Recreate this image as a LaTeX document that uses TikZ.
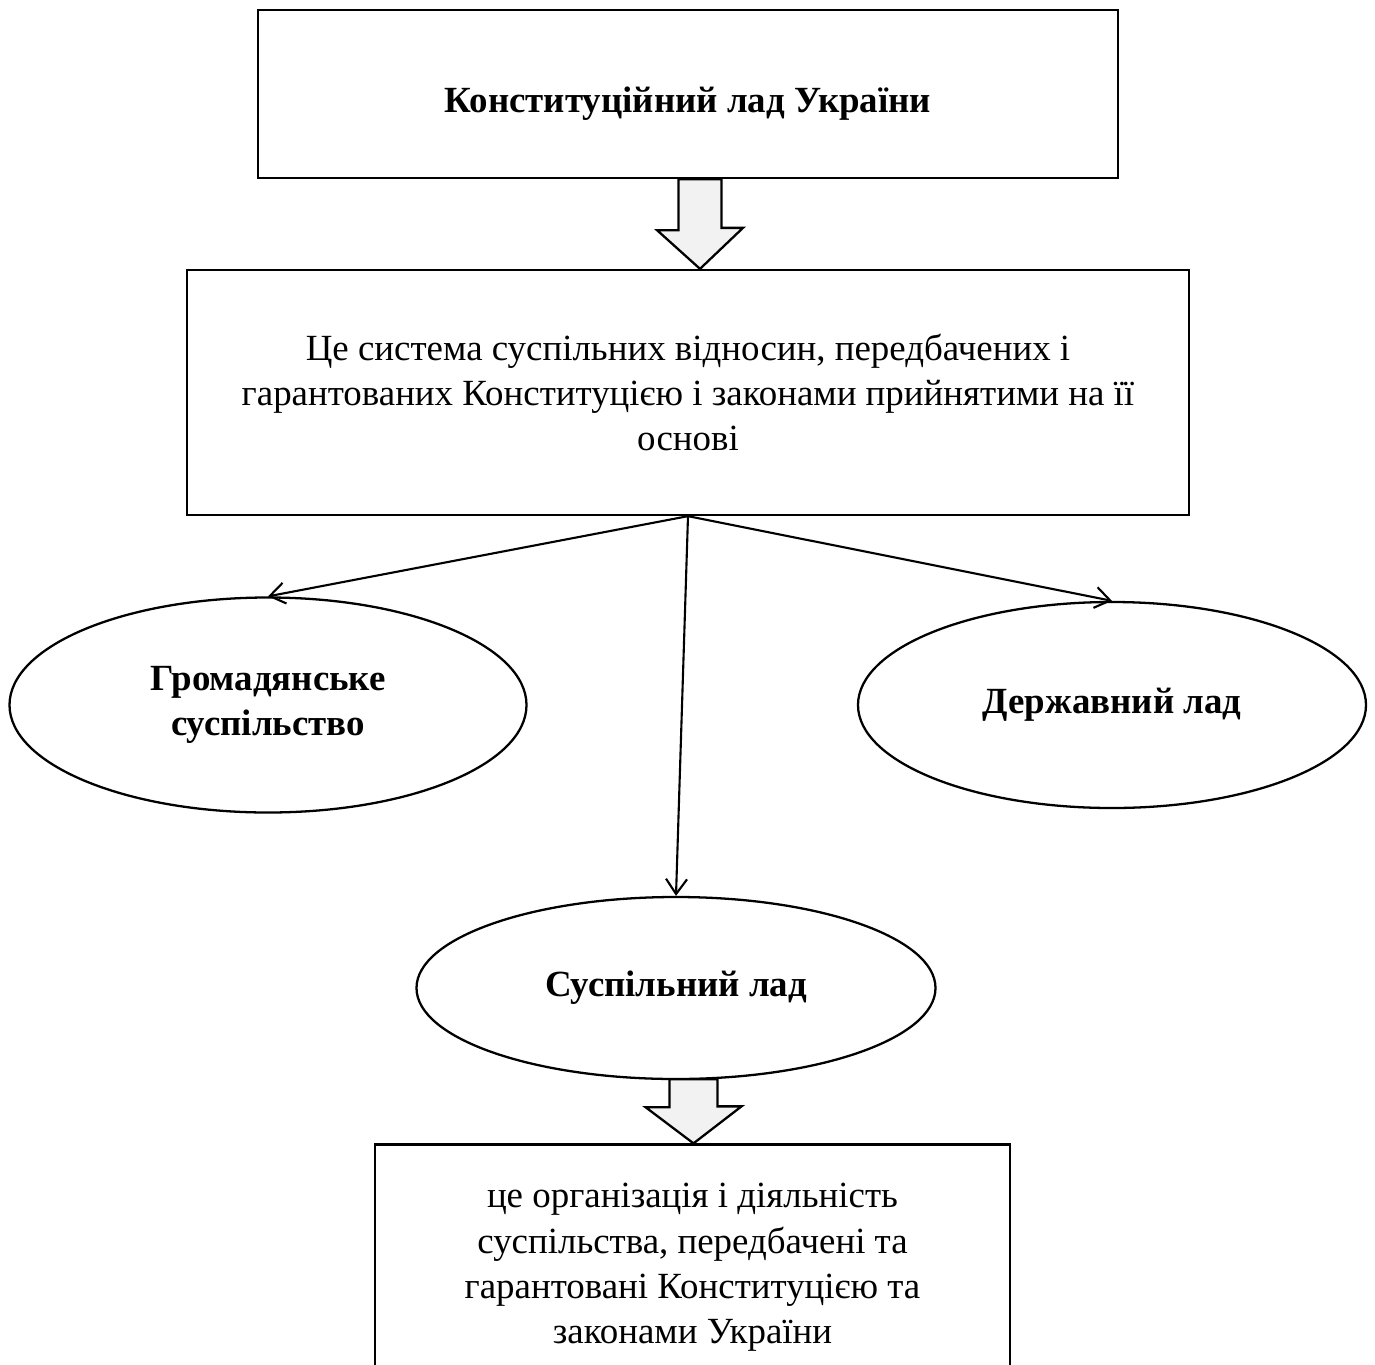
\documentclass[tikz,border=0pt]{standalone}
\usepackage{fontspec}
\setmainfont{Liberation Serif}
\usepackage{xcolor}
\usetikzlibrary{arrows.meta,positioning,shapes.geometric,calc}

\begin{document}
\begin{tikzpicture}[
  box/.style={rectangle, draw, line width=1.3pt, align=center,
              font=\fontsize{21}{25.8}\selectfont},
  oval/.style={ellipse, draw, line width=1.3pt, align=center,
               font=\fontsize{21}{25.8}\selectfont\bfseries},
  arr/.style={-{Straight Barb[length=3mm,width=4.2mm]}, line width=1.2pt},
  blockarr/.style={draw, line width=1.3pt, fill=black!5, line join=miter}
]
\useasboundingbox (0,0) rectangle (27.5,-27.3);
\clip (0,0) rectangle (27.5,-27.3);

% boxes
\node[box, minimum width=17.2cm, minimum height=3.36cm, text height=0.9cm, text depth=0.15cm,
  font=\fontsize{21}{25.8}\selectfont\bfseries]
  (lad) at (13.76,-1.88) {Конституційний лад України};
\node[box, minimum width=20.04cm, minimum height=4.9cm]
  (sys) at (13.76,-7.85) {Це система суспільних відносин, передбачених і\\
  гарантованих Конституцією і законами прийнятими на її\\основі};

% ovals
\node[oval, minimum width=10.34cm, minimum height=4.3cm]
  (civ) at (5.36,-14.1) {Громадянське\\суспільство};
\node[oval, minimum width=10.16cm, minimum height=4.12cm]
  (state) at (22.24,-14.1) {Державний лад};
\node[oval, minimum width=10.38cm, minimum height=3.64cm]
  (soc) at (13.52,-19.76) {Суспільний лад};

\node[box, minimum width=12.7cm, minimum height=4.92cm]
  (org) at (13.85,-25.35) {це організація і діяльність\\суспільства, передбачені та\\
  гарантовані Конституцією та\\законами України};

% block arrows
\draw[blockarr] ($(lad.south)+(-0.19,0)$) -- ++(0,-1.02) -- ++(-0.43,0)
  -- ($(sys.north)+(0.24,0)$) -- ++(0.86,0.82) -- ++(-0.43,0)
  -- ($(lad.south)+(0.67,0)$) -- cycle;
\draw[blockarr] ($(soc.south)+(-0.13,0.02)$) -- ++(0,-0.56) -- ++(-0.48,0)
  -- ($(org.north)+(0.02,0)$) -- ++(0.96,0.74) -- ++(-0.48,0)
  -- ($(soc.south)+(0.83,0.02)$) -- cycle;

% connectors
\draw[arr] (sys.south) -- (civ.north);
\draw[arr] (sys.south) -- (soc.north);
\draw[arr] (sys.south) -- (state.north);

\end{tikzpicture}
\end{document}
